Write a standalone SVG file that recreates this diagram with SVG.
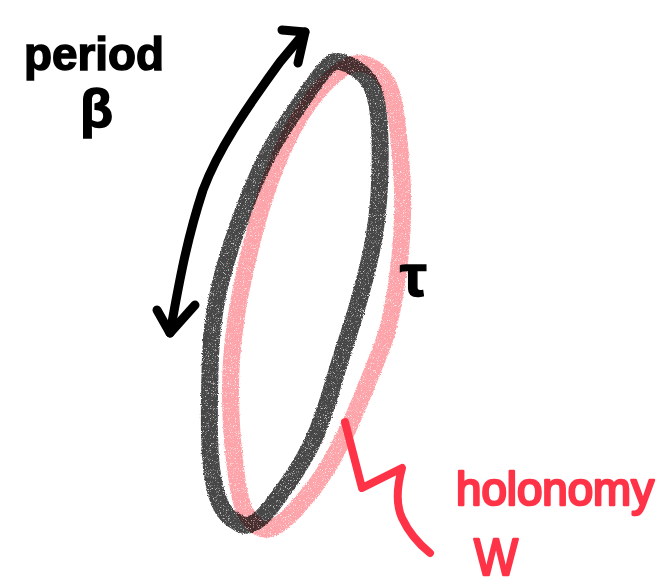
<svg xmlns="http://www.w3.org/2000/svg" width="663" height="585" viewBox="0 0 663 585">
<style>
.ink{font-family:"Liberation Sans","DejaVu Sans",sans-serif;font-weight:bold;fill:#000;stroke:#000;stroke-width:1.5}
.red{font-family:"Liberation Sans","DejaVu Sans",sans-serif;fill:#ff3347;stroke:#ff3347;stroke-width:2.6;stroke-linejoin:round}
.stroke{fill:none;stroke-linecap:round;stroke-linejoin:round}
.crayon{fill:none;stroke-width:17;stroke-linejoin:round;filter:url(#rough)}
</style>
<defs>
<filter id="rough" x="-10%" y="-10%" width="120%" height="120%">
<feTurbulence type="fractalNoise" baseFrequency="0.9" numOctaves="2" seed="3" result="n"/>
<feDisplacementMap in="SourceGraphic" in2="n" scale="3" xChannelSelector="R" yChannelSelector="G" result="d"/>
<feTurbulence type="fractalNoise" baseFrequency="1.4" numOctaves="1" seed="7" result="s"/>
<feColorMatrix in="s" type="matrix" values="0 0 0 0 0  0 0 0 0 0  0 0 0 0 0  0 0 0 -4 3.3" result="sa"/>
<feComposite in="d" in2="sa" operator="in"/>
</filter>
</defs>
<rect width="663" height="585" fill="#fff"/>
<g id="loop-dark">
<path class="crayon" stroke="#474747" d="M331.5,63 Q338,58 355,68 Q372,78 376.5,101.5 Q381,125 380,172.5 Q379,220 369.5,260 Q360,300 350,330 Q340,360 329,397.5 Q318,435 303,460 Q288,485 270,508 Q250,533 237,522 Q222,515 216,492.5 Q210,470 209.5,435 Q209,400 210.5,355 Q212,310 225,266 Q238,222 252.5,187.5 Q267,153 283.5,128 Q300,103 312.5,85.5 Q325,68 331.5,63 Z"/>
</g>
<g id="loop-pink" style="mix-blend-mode:multiply">
<path class="crayon" stroke="#fca4a9" d="M350,65 Q362,60 375,69 Q388,78 393,99 Q398,120 401.5,170 Q405,220 398.5,270 Q392,320 382.5,345 Q373,370 360,401.5 Q347,433 332.5,459 Q318,485 295,510 Q272,535 259,527.5 Q246,520 241,500 Q236,480 232.5,440 Q229,400 231.5,360 Q234,320 245,271 Q256,222 268,187.5 Q280,153 293.5,128 Q307,103 322.5,86.5 Q338,70 350,65 Z"/>
</g>
<g id="connectors">
<g id="period-arrow" class="stroke" stroke="#000" stroke-width="9">
<path d="M170,333 C178,290 185,245 203,190 C218,150 245,110 280,62 L305,32"/>
<polyline points="282,30 305,32 298,63"/>
<polyline points="157,310 170,333 195,305"/>
</g>
<path id="holonomy-squiggle" class="stroke" stroke="#ff3347" stroke-width="8" d="M345,422 L362,488 L402,468 C396,490 396,505 402,518 C410,535 420,545 430,553"/>
</g>
<g id="label-period"><text class="ink" x="24" y="70" font-size="46" textLength="140" lengthAdjust="spacingAndGlyphs">period</text></g>
<g id="label-beta"><text class="ink" x="80" y="127" font-size="54">β</text></g>
<g id="label-tau"><text class="ink" x="400" y="296" font-size="60">τ</text></g>
<g id="label-holonomy"><text class="red" x="456" y="505" font-size="47" textLength="198" lengthAdjust="spacingAndGlyphs">holonomy</text></g>
<g id="label-w"><text class="red" x="474" y="575" font-size="52" textLength="44" lengthAdjust="spacingAndGlyphs">W</text></g>
</svg>
